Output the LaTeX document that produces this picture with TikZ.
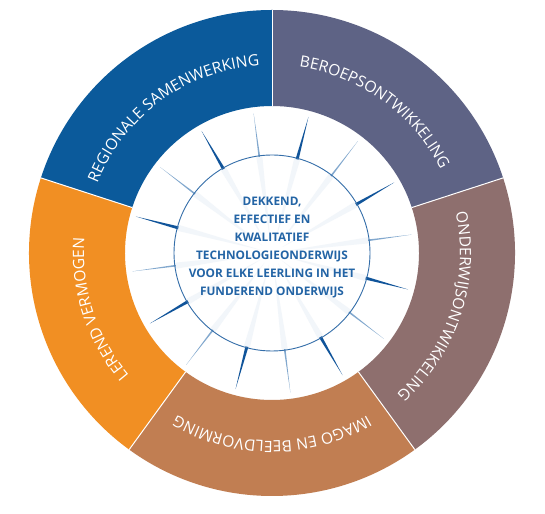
\documentclass[tikz,border=0pt]{standalone}
\usepackage{fontspec}
\setmainfont{Open Sans}
\usetikzlibrary{decorations.text}
\definecolor{regblue}{RGB}{11,90,155}
\definecolor{beroep}{RGB}{94,99,133}
\definecolor{onderw}{RGB}{142,111,110}
\definecolor{imago}{RGB}{193,126,82}
\definecolor{lerend}{RGB}{241,143,35}
\definecolor{spikedark}{RGB}{16,84,154}
\definecolor{spikelight}{RGB}{130,168,206}
\definecolor{faint}{RGB}{242,246,250}
\definecolor{coretext}{RGB}{35,100,165}

\begin{document}
\begin{tikzpicture}[x=1pt,y=1pt,
  curvelabel/.style={decorate,decoration={text along path,text align=center,
    text color=white,text={|\fontsize{15.6}{15.6}\selectfont|#1}}}]
\fill[white](0,0)rectangle(545,513);
\useasboundingbox(0,0)rectangle(545,513);
\coordinate(c)at(272,260);
\begin{scope}[shift={(c)}]
% sectors of the ring
\foreach \a/\col in {90/regblue,18/beroep,-54/onderw,-126/imago,162/lerend}
  \fill[\col](\a:243)arc[start angle=\a,end angle=\a+72,radius=243]
    --(\a+72:147)arc[start angle=\a+72,end angle=\a,radius=147]--cycle;
\foreach \a in {90,18,-54,-126,162}
  \draw[white,line width=1](\a:147)--(\a:243);
% rays
\foreach \a in {97.5,75,...,-240}
  \fill[faint](\a+1.8:97)--(\a:12)--(\a-1.8:97)--cycle;
\foreach \a in {75,30,...,-240}
  \fill[spikedark](\a+0.9:97)--(\a:141)--(\a-0.9:97)--cycle;
\foreach \a in {97.5,52.5,...,-220}
  \fill[spikelight](\a+0.5:97)--(\a:141)--(\a-0.5:97)--cycle;
\draw[spikedark!85,line width=0.9](0,0)circle[radius=98];
\node[align=center,text=coretext,font=\bfseries\fontsize{11.8}{18}\selectfont](core)at(0,5)
  {DEKKEND,\\EFFECTIEF EN\\KWALITATIEF\\TECHNOLOGIEONDERWIJS\\VOOR ELKE LEERLING IN HET\\FUNDEREND ONDERWIJS};
% labels on the ring
\path[curvelabel={REGIONALE SAMENWERKING}](162:188)arc[start angle=162,end angle=90,radius=188];
\path[curvelabel={BEROEPSONTWIKKELING}](90:188)arc[start angle=90,end angle=18,radius=188];
\path[curvelabel={ONDERWIJSONTWIKKELING}](18:188)arc[start angle=18,end angle=-54,radius=188];
\path[curvelabel={IMAGO EN BEELDVORMING}](-54:188)arc[start angle=-54,end angle=-126,radius=188];
\path[curvelabel={LEREND VERMOGEN}](234:188)arc[start angle=234,end angle=162,radius=188];
\end{scope}
\end{tikzpicture}
\end{document}
